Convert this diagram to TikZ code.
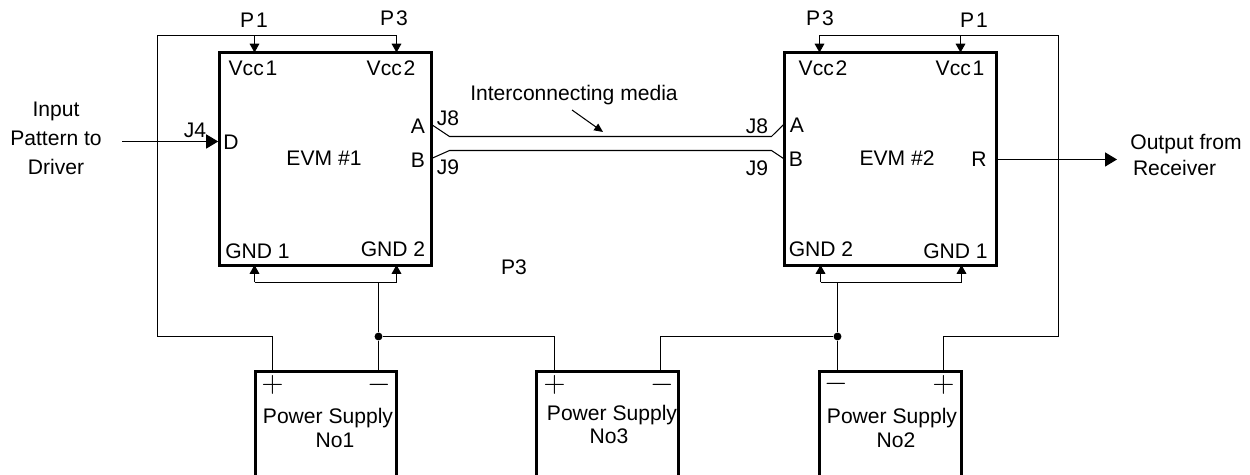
\documentclass[tikz,border=0pt]{standalone}
\usepackage{fontspec}
\setmainfont{Liberation Sans}
\usetikzlibrary{arrows.meta}

\tikzset{
  block/.style={draw, line width=1.5pt, minimum width=#1, inner sep=0pt},
  evm/.style={block=4.24cm, minimum height=4.25cm},
  supply/.style={block=2.83cm, minimum height=2.7cm},
  wire/.style={line width=0.6pt},
  feed/.style={wire, -{Triangle[length=5pt, width=5.5pt]}},
  signal/.style={wire, -{Triangle[length=6.8pt, width=8pt]}},
  label/.style={inner sep=0pt, font=\fontsize{12}{14}\selectfont},
  sign/.style={inner sep=0pt, font=\fontsize{16}{16}\selectfont},
  junction/.style={circle, fill, inner sep=0pt, minimum size=4.5pt},
}

\begin{document}
\begin{tikzpicture}
    \useasboundingbox (0, 0) rectangle (25, 9.5);
    \clip (0, 0) rectangle (25, 9.5);

    % boards
    \node [evm] (evm1) at (6.51, 6.32) {};
    \node [evm] (evm2) at (17.81, 6.32) {};

    % supplies, their lower edge runs off the page
    \node [supply] (ps1) at (6.52, 0.72) {};
    \node [supply] (ps3) at (12.15, 0.72) {};
    \node [supply] (ps2) at (17.81, 0.72) {};

    % top rails
    \coordinate (vcc11) at (5.09, 8.45);
    \coordinate (vcc21) at (7.93, 8.45);
    \coordinate (vcc22) at (16.39, 8.45);
    \coordinate (vcc12) at (19.21, 8.45);
    \coordinate (rail1) at (3.15, 8.79);
    \coordinate (rail2) at (21.17, 8.79);
    \coordinate (bend1) at (3.15, 2.77);
    \coordinate (bend2) at (21.17, 2.77);
    \coordinate (plus1) at (5.45, 2.08);
    \coordinate (plus2) at (18.87, 2.08);
    \coordinate (plus3) at (11.09, 2.08);
    \coordinate (minus3) at (13.21, 2.08);

    \draw [wire] (plus1) |- (bend1) -- (rail1) -- (vcc21 |- rail1);
    \draw [wire] (plus2) |- (bend2) -- (rail2) -- (vcc22 |- rail2);
    \draw [feed] (vcc11 |- rail1) -- (vcc11);
    \draw [feed] (vcc21 |- rail1) -- (vcc21);
    \draw [feed] (vcc22 |- rail2) -- (vcc22);
    \draw [feed] (vcc12 |- rail2) -- (vcc12);

    % ground returns
    \coordinate (gnd11) at (5.09, 4.2);
    \coordinate (gnd21) at (7.93, 4.2);
    \coordinate (gnd22) at (16.41, 4.2);
    \coordinate (gnd12) at (19.23, 4.2);
    \coordinate (fork1) at (7.57, 3.85);
    \coordinate (fork2) at (16.75, 3.85);
    \coordinate (minus1) at (7.57, 2.08);
    \coordinate (minus2) at (16.75, 2.08);
    \node [junction] (dot1) at (7.57, 2.77) {};
    \node [junction] (dot2) at (16.75, 2.77) {};

    \draw [wire] (gnd11 |- fork1) -- (gnd21 |- fork1);
    \draw [wire] (gnd22 |- fork2) -- (gnd12 |- fork2);
    \draw [feed] (gnd11 |- fork1) -- (gnd11);
    \draw [feed] (gnd21 |- fork1) -- (gnd21);
    \draw [feed] (gnd22 |- fork2) -- (gnd22);
    \draw [feed] (gnd12 |- fork2) -- (gnd12);
    \draw [wire] (fork1) -- (dot1) -- (minus1);
    \draw [wire] (fork2) -- (dot2) -- (minus2);
    \draw [wire] (dot1) -| (plus3);
    \draw [wire] (dot2) -| (minus3);

    % signal in and out
    \coordinate (in) at (2.44, 6.67);
    \coordinate (out) at (22.34, 6.31);
    \draw [signal] (in) -- (in -| evm1.west);
    \draw [signal] (evm2.east |- out) -- (out);

    % cable between the boards
    \coordinate (a1) at (8.63, 7.01);
    \coordinate (a2) at (15.67, 7.01);
    \coordinate (b1) at (8.63, 6.33);
    \coordinate (b2) at (15.67, 6.33);
    \draw [wire] (a1) -- (8.99, 6.77) -- (15.43, 6.77) -- (a2);
    \draw [wire] (b1) -- (8.99, 6.49) -- (15.43, 6.49) -- (b2);
    \node [label] (media) at (11.48, 7.6) {Interconnecting media};
    \coordinate (mediafrom) at (11.44, 7.3);
    \coordinate (mediato) at (12.06, 6.86);
    \draw [wire, -{Triangle[length=5pt, width=4.5pt]}] (mediafrom) -- (mediato);

    % texts
    \node [label] (p11) at (5.08, 9.1) {P\kern1pt 1};
    \node [label] (p31) at (7.88, 9.13) {P\kern1pt 3};
    \node [label] (p32) at (16.4, 9.13) {P\kern1pt 3};
    \node [label] (p12) at (19.48, 9.1) {P\kern1pt 1};
    \node [label] (v11) at (5.06, 8.14) {Vcc\kern1pt 1};
    \node [label] (v21) at (7.82, 8.14) {Vcc\kern1pt 2};
    \node [label] (v22) at (16.46, 8.14) {Vcc\kern1pt 2};
    \node [label] (v12) at (19.2, 8.14) {Vcc\kern1pt 1};
    \node [label] (j4) at (3.9, 6.9) {J4};
    \node [label] (d1) at (4.62, 6.66) {D};
    \node [label] (pa1) at (8.36, 6.98) {A};
    \node [label] (pb1) at (8.36, 6.3) {B};
    \node [label] (j81) at (8.96, 7.14) {J8};
    \node [label] (j91) at (8.96, 6.16) {J9};
    \node [label] (j82) at (15.14, 6.98) {J8};
    \node [label] (j92) at (15.14, 6.14) {J9};
    \node [label] (pa2) at (15.94, 7) {A};
    \node [label] (pb2) at (15.92, 6.32) {B};
    \node [label] (name1) at (6.48, 6.34) {EVM \#1};
    \node [label] (name2) at (17.94, 6.34) {EVM \#2};
    \node [label] (r2) at (19.58, 6.32) {R};
    \node [label] (g11) at (5.15, 4.48) {GND 1};
    \node [label] (g21) at (7.86, 4.52) {GND 2};
    \node [label] (g22) at (16.42, 4.52) {GND 2};
    \node [label] (g12) at (19.11, 4.48) {GND 1};
    \node [label] (p3mid) at (10.28, 4.16) {P3};

    \node [label, align=center] (input) at (1.12, 6.74) {Input\\[2.5pt]Pattern to\\[2.5pt]Driver};
    \node [label, align=left, anchor=west] (output) at (22.6, 6.4) {Output from\\[1pt]\hspace{1.5pt}Receiver};

    \node [label] (ps1a) at (6.56, 1.14) {Power Supply};
    \node [label] (ps1b) at (6.7, 0.7) {No1};
    \node [label] (ps3a) at (12.24, 1.2) {Power Supply};
    \node [label] (ps3b) at (12.18, 0.78) {No3};
    \node [label] (ps2a) at (17.84, 1.14) {Power Supply};
    \node [label] (ps2b) at (17.92, 0.7) {No2};
    \node [sign] (s1p) at (5.45, 1.8) {$+$};
    \node [sign] (s1m) at (7.58, 1.8) {$-$};
    \node [sign] (s3p) at (11.09, 1.8) {$+$};
    \node [sign] (s3m) at (13.24, 1.8) {$-$};
    \node [sign] (s2m) at (16.72, 1.82) {$-$};
    \node [sign] (s2p) at (18.87, 1.8) {$+$};
\end{tikzpicture}
\end{document}
